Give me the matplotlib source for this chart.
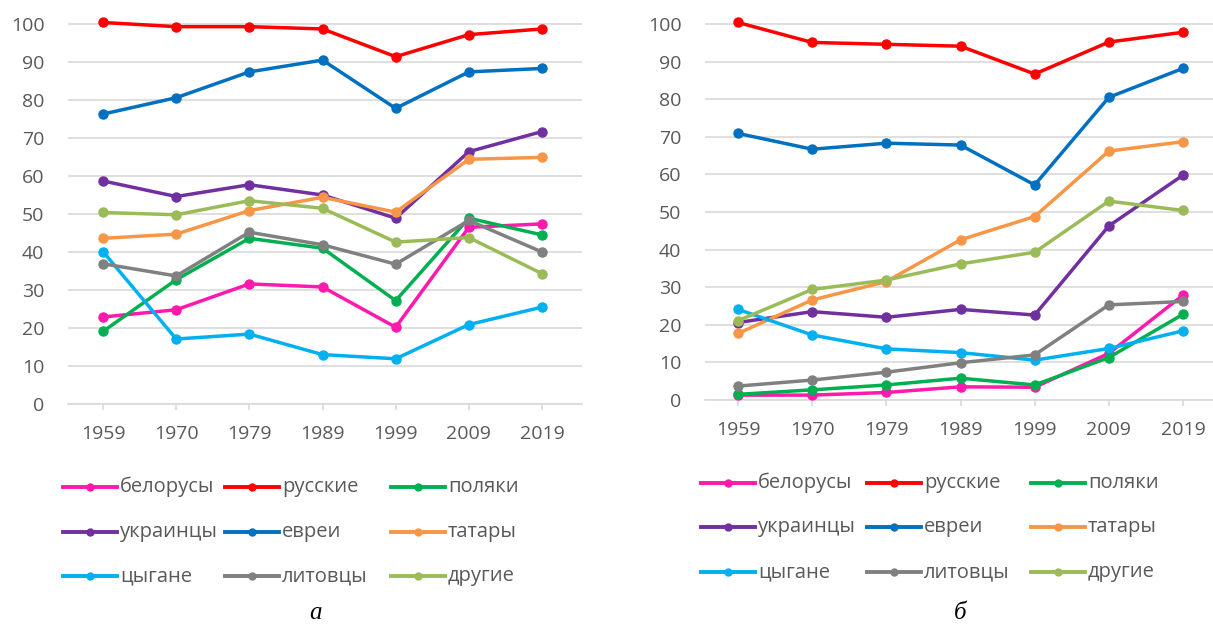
import matplotlib
matplotlib.use('Agg')
import matplotlib.pyplot as plt
from matplotlib.lines import Line2D

plt.rcParams['font.family'] = ['Open Sans', 'DejaVu Sans']

# ---------------------------------------------------------------------------
# data
years = ['1959', '1970', '1979', '1989', '1999', '2009', '2019']
names = ['белорусы', 'русские', 'поляки', 'украинцы', 'евреи', 'татары',
         'цыгане', 'литовцы', 'другие']
colors = ['#FF19AC', '#FF0000', '#00B050', '#7030A0', '#0070C0', '#F79646',
          '#00B0F0', '#808080', '#9BBB59']

# panel a
a_belarus = [22.9, 24.8, 31.6, 30.8, 20.2, 46.5, 47.4]
a_russian = [100.4, 99.3, 99.3, 98.7, 91.4, 97.2, 98.7]
a_polish = [19.1, 32.7, 43.6, 41.0, 27.2, 48.9, 44.5]
a_ukrain = [58.7, 54.6, 57.7, 55.0, 48.9, 66.4, 71.7]
a_jewish = [76.3, 80.6, 87.4, 90.5, 77.8, 87.4, 88.3]
a_tatar = [43.6, 44.7, 50.9, 54.4, 50.5, 64.4, 64.9]
a_roma = [40.1, 17.1, 18.4, 13.0, 11.9, 20.9, 25.5]
a_lithuan = [36.9, 33.7, 45.2, 41.9, 36.8, 48.3, 40.0]
a_other = [50.4, 49.8, 53.5, 51.5, 42.6, 43.8, 34.3]

# panel б
b_belarus = [1.3, 1.3, 2.0, 3.5, 3.4, 12.4, 27.9]
b_russian = [100.4, 95.1, 94.6, 94.1, 86.7, 95.2, 97.8]
b_polish = [1.5, 2.7, 4.0, 5.8, 4.0, 11.3, 22.8]
b_ukrain = [20.6, 23.5, 22.0, 24.1, 22.6, 46.3, 59.8]
b_jewish = [70.9, 66.7, 68.3, 67.8, 57.2, 80.5, 88.2]
b_tatar = [17.7, 26.6, 31.5, 42.6, 48.8, 66.2, 68.7]
b_roma = [24.1, 17.3, 13.6, 12.6, 10.6, 13.7, 18.4]
b_lithuan = [3.7, 5.3, 7.4, 9.9, 12.0, 25.3, 26.2]
b_other = [21.1, 29.4, 31.9, 36.2, 39.3, 52.9, 50.4]

series_a = [a_belarus, a_russian, a_polish, a_ukrain, a_jewish, a_tatar,
            a_roma, a_lithuan, a_other]
series_b = [b_belarus, b_russian, b_polish, b_ukrain, b_jewish, b_tatar,
            b_roma, b_lithuan, b_other]

# ---------------------------------------------------------------------------
W, H = 1213, 626
fig = plt.figure(figsize=(W / 100, H / 100), dpi=100)

grid_col = '#D9D9D9'
text_col = '#595959'


def make_axes(x0, x1, y_zero, px_per_unit, first_x, step):
    top = 105
    ax = fig.add_axes([x0 / W, (H - y_zero) / H, (x1 - x0) / W, top * px_per_unit / H])
    ax.set_ylim(0, top)
    ax.set_xlim((x0 - first_x) / step, (x1 - first_x) / step)
    return ax


def draw_panel(ax, series):
    xs = list(range(len(years)))
    for vals, c in zip(series, colors):
        ax.plot(xs, vals, color=c, lw=2.5, marker='o', ms=6.5,
                solid_joinstyle='round', clip_on=False, zorder=3)
    ax.set_yticks(range(0, 101, 10))
    ax.set_xticks(xs)
    ax.set_xticklabels(years)
    ax.grid(axis='y', color=grid_col, lw=1.2, zorder=0)
    for s in ['top', 'right', 'left']:
        ax.spines[s].set_visible(False)
    ax.spines['bottom'].set_color(grid_col)
    ax.spines['bottom'].set_linewidth(1.2)
    ax.tick_params(axis='y', length=0, pad=17, labelsize=14, labelcolor=text_col)
    ax.tick_params(axis='x', length=4, width=1.2, color=grid_col, pad=11,
                   labelsize=14, labelcolor=text_col)


ax1 = make_axes(68, 582, 404, 3.8, 103, 73.17)
draw_panel(ax1, series_a)
ax2 = make_axes(705, 1220, 400, 3.76, 738, 74.17)
draw_panel(ax2, series_b)


# legends, laid out row by row like the original
def draw_legend(cols, rows):
    for i, (name, c) in enumerate(zip(names, colors)):
        x = cols[i % 3]
        y = rows[i // 3]
        fy = (H - y) / H
        fig.add_artist(Line2D([x / W, (x + 54) / W], [fy, fy], color=c, lw=2.8,
                              transform=fig.transFigure))
        fig.add_artist(Line2D([(x + 27) / W], [fy], color=c, marker='o', ms=5,
                              transform=fig.transFigure))
        fig.text((x + 57) / W, fy, name, fontsize=14.5, color=text_col,
                 va='center', ha='left')


draw_legend([63, 225, 391], [487, 532, 576])
draw_legend([701, 867, 1031], [483, 527, 572])

fig.text(315 / W, (H - 613) / H, 'а', fontsize=18, style='italic',
         family='Liberation Serif', ha='center', va='center')
fig.text(960 / W, (H - 613) / H, 'б', fontsize=18, style='italic',
         family='Liberation Serif', ha='center', va='center')

fig.savefig('out.png', dpi=100)
